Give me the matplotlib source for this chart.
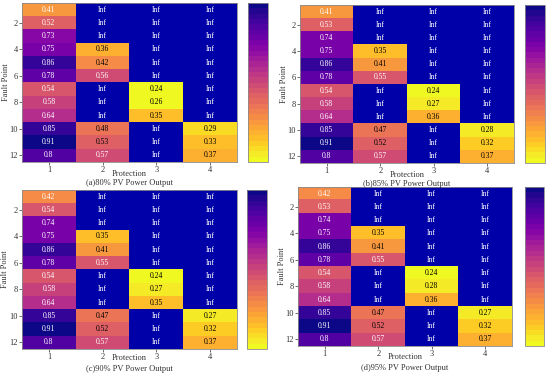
import numpy as np
import matplotlib
matplotlib.use("Agg")
import matplotlib.pyplot as plt
from matplotlib.colors import Normalize

plt.rcParams['font.family'] = ['Liberation Serif', 'DejaVu Serif']

INF = np.inf
fault_points = list(range(1, 13))
protections = [1, 2, 3, 4]

a_p1 = [0.41, 0.52, 0.73, 0.75, 0.86, 0.78, 0.54, 0.58, 0.64, 0.85, 0.91, 0.8]
a_p2 = [INF, INF, INF, 0.36, 0.42, 0.56, INF, INF, INF, 0.48, 0.53, 0.57]
a_p3 = [INF, INF, INF, INF, INF, INF, 0.24, 0.26, 0.35, INF, INF, INF]
a_p4 = [INF, INF, INF, INF, INF, INF, INF, INF, INF, 0.29, 0.33, 0.37]

b_p1 = [0.41, 0.53, 0.74, 0.75, 0.86, 0.78, 0.54, 0.58, 0.64, 0.85, 0.91, 0.8]
b_p2 = [INF, INF, INF, 0.35, 0.41, 0.55, INF, INF, INF, 0.47, 0.52, 0.57]
b_p3 = [INF, INF, INF, INF, INF, INF, 0.24, 0.27, 0.36, INF, INF, INF]
b_p4 = [INF, INF, INF, INF, INF, INF, INF, INF, INF, 0.28, 0.32, 0.37]

c_p1 = [0.42, 0.54, 0.74, 0.75, 0.86, 0.78, 0.54, 0.58, 0.64, 0.85, 0.91, 0.8]
c_p2 = [INF, INF, INF, 0.35, 0.41, 0.55, INF, INF, INF, 0.47, 0.52, 0.57]
c_p3 = [INF, INF, INF, INF, INF, INF, 0.24, 0.27, 0.35, INF, INF, INF]
c_p4 = [INF, INF, INF, INF, INF, INF, INF, INF, INF, 0.27, 0.32, 0.37]

d_p1 = [0.42, 0.53, 0.74, 0.75, 0.86, 0.78, 0.54, 0.58, 0.64, 0.85, 0.91, 0.8]
d_p2 = [INF, INF, INF, 0.35, 0.41, 0.55, INF, INF, INF, 0.47, 0.52, 0.57]
d_p3 = [INF, INF, INF, INF, INF, INF, 0.24, 0.28, 0.36, INF, INF, INF]
d_p4 = [INF, INF, INF, INF, INF, INF, INF, INF, INF, 0.27, 0.32, 0.37]

titles = ["(a)80% PV Power Output", "(b)85% PV Power Output",
          "(c)90% PV Power Output", "(d)95% PV Power Output"]
panels = [
    [a_p1, a_p2, a_p3, a_p4],
    [b_p1, b_p2, b_p3, b_p4],
    [c_p1, c_p2, c_p3, c_p4],
    [d_p1, d_p2, d_p3, d_p4],
]

W, H = 550, 375
fig = plt.figure(figsize=(W / 100, H / 100), dpi=100)

# pixel layouts: heat (x0,x1,y0,y1), cbar (x0,x1), label y, title y, ylabel center x
layouts = [
    ((22, 237, 3, 162), (248, 268), 174, 183, 6),
    ((300, 514, 5, 163), (525, 545), 175, 184, 284),
    ((22, 237, 190, 349), (247, 267), 358, 369, 5),
    ((298, 512, 187, 346), (525, 544), 357, 368, 282),
]

def rect(x0, x1, y0, y1):
    return [x0 / W, 1 - y1 / H, (x1 - x0) / W, (y1 - y0) / H]

cmap = plt.get_cmap('plasma_r').resampled(30).copy()
cmap.set_over('#0000a8')
gray = '#8a8a8a'
fs = 5.5

for cols, title, (hb, cb, ly, ty, yx) in zip(panels, titles, layouts):
    data = np.array(cols).T
    finite = data[np.isfinite(data)]
    norm = Normalize(vmin=finite.min(), vmax=finite.max())
    plot_data = np.where(np.isfinite(data), data, finite.max() * 10)
    ax = fig.add_axes(rect(*hb))
    im = ax.imshow(plot_data, cmap=cmap, norm=norm, aspect='auto',
                   interpolation='nearest')
    for i in range(data.shape[0]):
        for j in range(data.shape[1]):
            v = data[i, j]
            if np.isfinite(v):
                txt = f"{v:g}"
                color = 'white' if (v >= 0.54 or j == 0) else 'black'
            else:
                txt = "Inf"
                color = 'white'
            ax.text(j, i, txt, ha='center', va='center', fontsize=fs, color=color)
    ax.set_xticks(range(len(protections)))
    ax.set_xticklabels([str(p) for p in protections])
    ax.set_yticks([k - 1 for k in fault_points if k % 2 == 0])
    ax.set_yticklabels([str(k) for k in fault_points if k % 2 == 0])
    ax.tick_params(labelsize=fs + 0.5, length=2, width=0.5, pad=1, colors='#333333')
    for s in ax.spines.values():
        s.set_color(gray)
        s.set_linewidth(0.6)
    ax.set_ylabel("Fault Point", fontsize=fs + 0.5, color='#333333')
    ax.yaxis.set_label_coords((yx + 4 - hb[0]) / (hb[1] - hb[0]), 0.5)
    cx = (hb[0] + hb[1]) / 2 / W
    fig.text(cx, 1 - ly / H, "Protection", ha='center', va='center',
             fontsize=fs + 0.5, color='#333333')
    fig.text(cx, 1 - ty / H, title, ha='center', va='center',
             fontsize=fs + 0.5, color='#333333')
    cax = fig.add_axes(rect(cb[0], cb[1], hb[2], hb[3]))
    cbar = fig.colorbar(im, cax=cax)
    cbar.set_ticks([])
    cbar.outline.set_edgecolor(gray)
    cbar.outline.set_linewidth(0.6)

fig.savefig("out.png", dpi=100)
